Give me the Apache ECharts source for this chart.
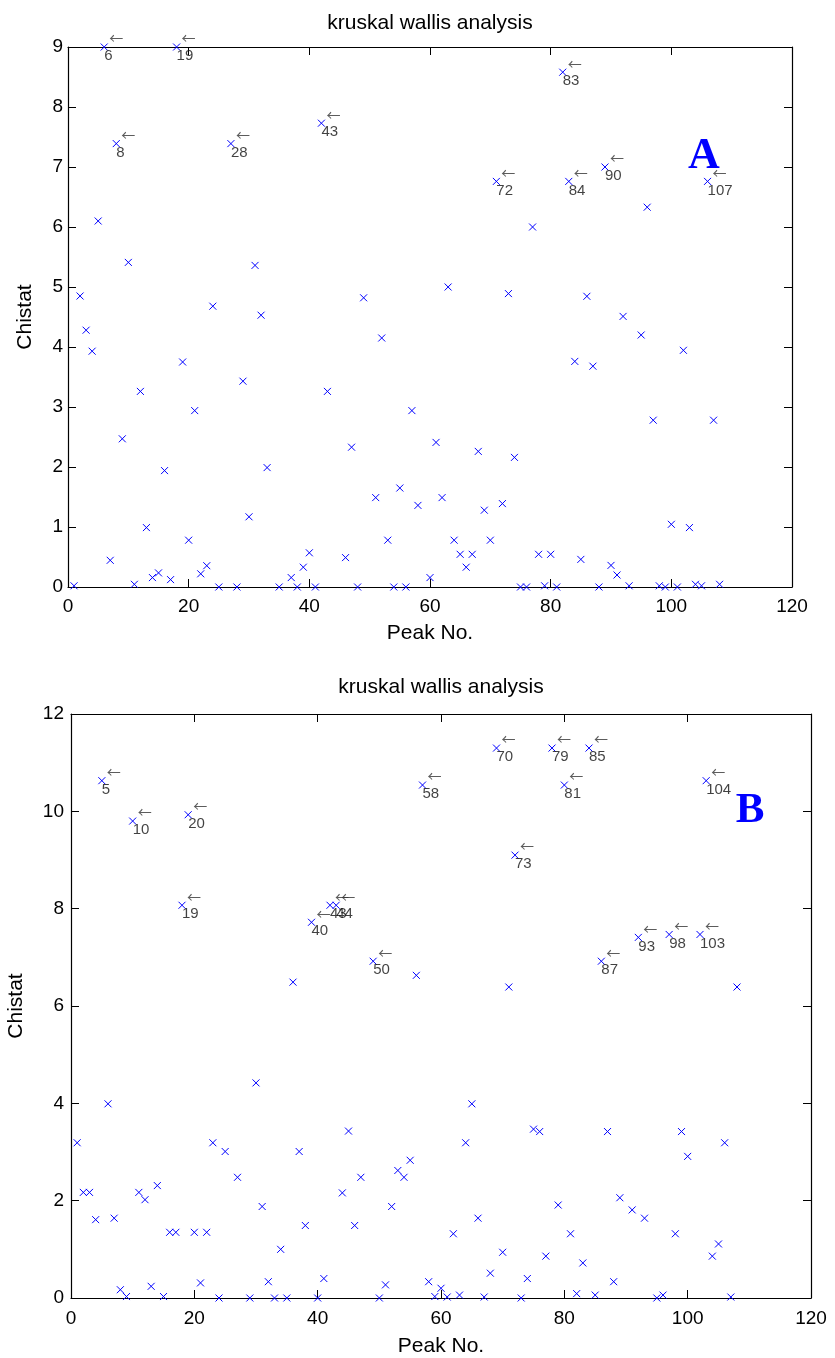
<!DOCTYPE html>
<html><head><meta charset="utf-8">
<script src="https://cdn.jsdelivr.net/npm/echarts@6/dist/echarts.min.js"></script>
<style>html,body{margin:0;padding:0;background:#fff}#chart{width:835px;height:1358px}</style>
</head><body><div id="chart"></div>
<script>
// ---------- Panel A data ----------
const peakA = [
  1,2,3,4,5,6,7,8,9,10,11,12,13,14,15,16,17,18,19,20,21,22,23,24,25,
  27,28,29,30,31,32,33,35,37,38,39,40,41,42,43,46,47,48,49,
  51,52,53,54,55,56,57,58,
  60,61,62,63,64,65,66,67,68,69,70,71,72,73,74,75,76,77,78,79,80,
  81,82,83,84,85,86,87,88,89,90,91,92,93,
  95,96,97,98,99,100,101,102,103,104,105,106,107,108];
const chiA = [
  0.02,4.85,4.28,3.93,6.10,9.00,0.445,7.39,2.47,5.41,0.045,3.26,0.99,0.157,0.235,1.94,0.123,9.00,3.75,0.78,2.94,0.22,0.355,4.68,0,
  7.39,0,3.43,1.17,5.36,4.53,1.99,0,0.157,0,0.33,0.57,0,7.73,3.26,0.49,2.33,0,4.82,
  1.49,4.15,0.78,0,1.65,0,2.94,1.36,
  0.157,2.41,1.49,5.0,0.78,0.545,0.33,0.545,2.26,1.28,0.78,6.76,1.39,4.89,2.16,0,0,6.0,0.545,0.02,0.545,
  0,8.58,6.76,3.76,0.46,4.845,3.68,0,7.0,0.36,0.2,4.51,0.02,
  4.2,6.33,2.78,0.02,0,1.045,0,3.945,0.99,0.045,0.02,6.76,2.78,0.045];
const notePeakA = [6,8,18,27,42,71,82,83,89,106];
const noteTextA = ['6','8','19','28','43','72','83','84','90','107'];

// ---------- Panel B data ----------
const peakB = [
  1,2,3,4,5,6,7,8,9,10,11,12,13,14,15,16,17,18,19,20,21,22,23,24,25,
  27,29,30,31,32,33,34,35,36,37,38,39,40,41,42,43,44,45,46,47,
  49,50,51,52,53,54,55,56,57,58,59,60,61,62,63,64,65,66,67,68,69,
  70,71,72,73,74,75,76,77,78,79,80,81,82,83,84,85,86,87,88,89,
  91,92,93,95,96,97,98,99,100,102,103,104,105,106,107,108];
const chiB = [
  3.19,2.17,2.17,1.61,10.63,3.99,1.64,0.17,0.03,9.80,2.17,2.02,0.24,2.31,0.03,1.35,1.35,8.07,9.93,1.35,0.31,1.35,3.19,0,3.01,
  2.48,0,4.42,1.88,0.335,0,1.0,0,6.49,3.01,1.49,7.72,0,0.40,8.07,8.07,2.16,3.43,1.49,2.48,
  6.92,0,0.27,1.88,2.62,2.48,2.83,6.63,10.54,0.335,0.03,0.2,0.02,1.32,0.06,3.19,3.99,1.64,0.02,0.51,11.3,
  0.94,6.39,9.10,0,0.40,3.47,3.42,0.86,11.3,1.91,10.54,1.32,0.09,0.72,11.3,0.06,6.92,3.42,0.335,2.06,
  1.81,7.41,1.64,0,0.06,7.47,1.32,3.42,2.91,7.47,10.63,0.86,1.11,3.19,0.02,6.39];
const notePeakB = [5,10,18,19,39,42,43,49,57,69,72,78,80,84,86,92,97,102,103];
const noteTextB = ['5','10','19','20','40','43','44','50','58','70','73','79','81','85','87','93','98','103','104'];

// ---------- Axis ticks ----------
const xTicks = {min: 0, max: 120, interval: 20};
const yTicksA = {min: 0, max: 9, interval: 1};
const yTicksB = {min: 0, max: 12, interval: 2};

const FONT = '"Liberation Sans", Arial, sans-serif';
const ARROW_FONT = '"Noto Sans CJK SC", "DejaVu Sans", sans-serif';
const AXIS_LINE = {show: true, onZero: false, lineStyle: {color: '#000', width: 1.2}};
const TICK = {show: true, inside: true, length: 8, lineStyle: {color: '#000', width: 1}};

function xMain(gi, margin, gap) {
  return Object.assign({gridIndex: gi, type: 'value', position: 'bottom',
    axisLine: AXIS_LINE, axisTick: TICK, splitLine: {show: false},
    axisLabel: {show: true, margin: margin, fontSize: 19, color: '#000', fontFamily: FONT, showMinLabel: true, showMaxLabel: true},
    name: 'Peak No.', nameLocation: 'middle', nameGap: gap, nameMoveOverlap: false,
    nameTextStyle: {fontSize: 21, color: '#000', fontFamily: FONT}}, xTicks);
}
function xTop(gi) {
  return Object.assign({gridIndex: gi, type: 'value', position: 'top',
    axisLine: AXIS_LINE, axisTick: TICK, splitLine: {show: false}, axisLabel: {show: false}}, xTicks);
}
function yMain(gi, ticks, margin, gap) {
  return Object.assign({gridIndex: gi, type: 'value', position: 'left',
    axisLine: AXIS_LINE, axisTick: TICK, splitLine: {show: false},
    axisLabel: {show: true, margin: margin, fontSize: 19, color: '#000', fontFamily: FONT, showMinLabel: true, showMaxLabel: true},
    name: 'Chistat', nameLocation: 'middle', nameRotate: 90, nameGap: gap, nameMoveOverlap: false,
    nameTextStyle: {fontSize: 21, color: '#000', fontFamily: FONT}}, ticks);
}
function yRight(gi, ticks) {
  return Object.assign({gridIndex: gi, type: 'value', position: 'right',
    axisLine: AXIS_LINE, axisTick: TICK, splitLine: {show: false}, axisLabel: {show: false}}, ticks);
}

const CROSS = 'path://M0,0L10,10M10,0L0,10';
function pointsSeries(xi, yi, peaks, vals) {
  return {type: 'scatter', xAxisIndex: xi, yAxisIndex: yi, clip: false, silent: true,
    symbol: CROSS, symbolSize: 7,
    itemStyle: {color: 'transparent', borderColor: '#0000ff', borderWidth: 1, opacity: 1},
    data: peaks.map((p, i) => [p, vals[i]]), z: 3};
}
function noteSeries(xi, yi, peaks, vals, notePeaks, texts, kind) {
  const data = notePeaks.map((p, i) => ({value: [p, vals[peaks.indexOf(p)]], name: texts[i]}));
  const isArrow = kind === 'arrow';
  return {type: 'scatter', xAxisIndex: xi, yAxisIndex: yi, clip: false, silent: true,
    symbol: 'circle', symbolSize: 1, itemStyle: {color: 'transparent'}, z: 4,
    label: {show: true, position: isArrow ? [5.5, -8.5] : [0.5, 9.5], align: 'left', verticalAlign: 'middle',
      formatter: isArrow ? '\u2190' : (pr) => pr.name,
      fontSize: isArrow ? 14 : 15, color: isArrow ? '#333' : '#111', fontFamily: isArrow ? ARROW_FONT : FONT},
    data: data};
}

const option = {
  animation: false,
  backgroundColor: '#fff',
  title: [
    {text: 'kruskal wallis analysis', left: 425, top: 8, textAlign: 'center',
     textStyle: {fontSize: 21, fontWeight: 'normal', color: '#000', fontFamily: FONT}},
    {text: 'kruskal wallis analysis', left: 436, top: 672, textAlign: 'center',
     textStyle: {fontSize: 21, fontWeight: 'normal', color: '#000', fontFamily: FONT}}
  ],
  grid: [
    {left: 68, top: 47, width: 724, height: 540, containLabel: false, outerBoundsMode: 'none'},
    {left: 71, top: 714, width: 740, height: 584, containLabel: false, outerBoundsMode: 'none'}
  ],
  xAxis: [xMain(0, 10, 36), xTop(0), xMain(1, 11, 38), xTop(1)],
  yAxis: [yMain(0, yTicksA, 5, 32), yRight(0, yTicksA), yMain(1, yTicksB, 7, 44), yRight(1, yTicksB)],
  series: [
    pointsSeries(0, 0, peakA, chiA),
    noteSeries(0, 0, peakA, chiA, notePeakA, noteTextA, 'arrow'),
    noteSeries(0, 0, peakA, chiA, notePeakA, noteTextA, 'num'),
    pointsSeries(2, 2, peakB, chiB),
    noteSeries(2, 2, peakB, chiB, notePeakB, noteTextB, 'arrow'),
    noteSeries(2, 2, peakB, chiB, notePeakB, noteTextB, 'num')
  ],
  graphic: [
    {type: 'text', x: 704, y: 157, z: 10, style: {text: 'A', font: 'bold 44px "Liberation Serif", "Times New Roman", serif', fill: '#0000ff', align: 'center', verticalAlign: 'middle'}},
    {type: 'text', x: 750, y: 811, z: 10, style: {text: 'B', font: 'bold 43px "Liberation Serif", "Times New Roman", serif', fill: '#0000ff', align: 'center', verticalAlign: 'middle'}}
  ]
};
const chart = echarts.init(document.getElementById('chart'));
chart.setOption(option);
</script></body></html>
